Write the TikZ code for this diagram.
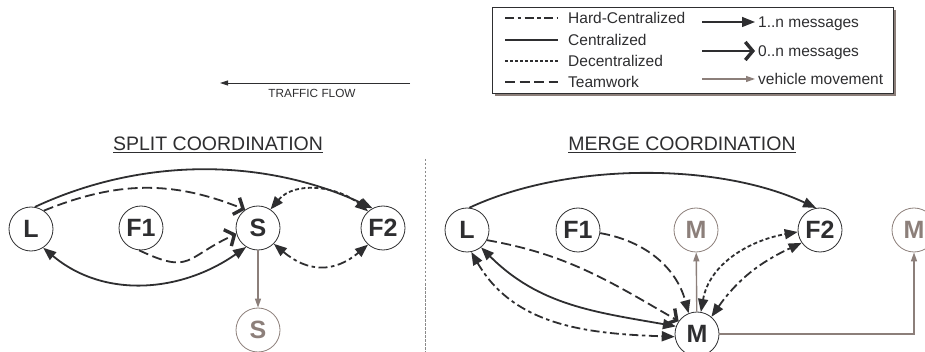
\documentclass[tikz,border=0pt]{standalone}
\usepackage{fontspec}
\setmainfont{Liberation Sans}
\usetikzlibrary{arrows.meta}
\definecolor{dk}{HTML}{2E2E30}
\definecolor{veh}{HTML}{8C7F7A}
\definecolor{sep}{HTML}{8A8A8A}
\tikzset{
  fulltip/.tip={Triangle[length=13pt,width=10pt]},
  opentip/.tip={Straight Barb[length=7.5pt,width=18pt,line width=3.4pt]},
  vehtip/.tip={Triangle[length=9pt,width=6pt]},
}
\begin{document}
\begin{tikzpicture}[x=1pt,y=1pt,
  every node/.style={inner sep=0pt, text=dk},
  nd/.style={circle, draw=dk, line width=0.8pt, minimum size=44pt,
    font=\fontsize{25}{25}\selectfont\bfseries},
  ndg/.style={nd, draw=veh, text=veh},
  conn/.style={line width=1.8pt, draw=dk},
  hardc/.style={dash pattern=on 9pt off 3.5pt on 3.5pt off 3.5pt},
  dec/.style={dash pattern=on 4pt off 2.5pt},
  team/.style={dash pattern=on 10pt off 4.5pt},
  vehline/.style={line width=1.4pt, draw=veh},
  legtext/.style={anchor=base west, font=\fontsize{15.5}{16}\selectfont},
  legline/.style={line width=1.4pt, draw=dk},
  head/.style={font=\fontsize{19.5}{20}\selectfont},
]
\useasboundingbox (0,0) rectangle (925,-352);

% ---------- legend ----------
\fill[veh] (495,-10) rectangle (896,-96);
\draw[fill=white, draw=dk, line width=0.7pt] (492,-7) rectangle (893,-93);

\node[legtext] (lg1) at (568,-23.5) {Hard-Centralized};
\node[legtext] (lg2) at (568,-45.5) {Centralized};
\node[legtext] (lg3) at (568,-66.5) {Decentralized};
\node[legtext] (lg4) at (568,-87.5) {Teamwork};
\draw[legline, hardc] (505,-18) -- (558,-18);
\draw[legline] (505,-40) -- (558,-40);
\draw[legline, dash pattern=on 3pt off 2pt] (505,-61) -- (558,-61);
\draw[legline, team] (505,-82) -- (558,-82);

\node[legtext] (lr1) at (758,-27.5) {1..n messages};
\node[legtext] (lr2) at (758,-56.5) {0..n messages};
\node[legtext] (lr3) at (758,-84.5) {vehicle movement};
\draw[legline, -fulltip] (702,-22) -- (755,-22);
\draw[legline, -opentip] (702,-51) -- (755,-51);
\draw[vehline, line width=1.2pt, -vehtip] (702,-79) -- (755,-79);

% ---------- traffic flow ----------
\coordinate (tfA) at (410,-83);
\coordinate (tfB) at (220,-83);
\draw[line width=0.9pt, draw=dk, -{Triangle[length=8pt,width=5pt]}] (tfA) -- (tfB);
\node[font=\fontsize{11.8}{12}\selectfont] (tf) at (312,-93) {TRAFFIC FLOW};

% ---------- headings ----------
\node[head] (hs) at (218,-145) {\underline{SPLIT COORDINATION}};
\node[head] (hm) at (682,-145) {\underline{MERGE COORDINATION}};

% separator
\coordinate (sepA) at (425,-159);
\coordinate (sepB) at (425,-352);
\draw[sep, line width=0.9pt, dash pattern=on 2.5pt off 1.5pt] (sepA) -- (sepB);

% ---------- split coordination ----------
\node[nd] (L) at (31,-229) {L};
\node[nd] (F1) at (141,-228) {F1};
\node[nd] (S) at (258,-228) {S};
\node[nd] (F2) at (383,-228) {F2};
\node[ndg] (Sg) at (258,-330) {S};

\draw[conn, -fulltip] (L.80) to[out=25,in=155,looseness=0.9] (F2.118);
\draw[conn, team, -opentip] (L.55) to[out=22,in=158] (S.125);
\draw[conn, team, -opentip] (F1.-95) to[out=-25,in=205,looseness=1.5] (S.195);
\draw[conn, fulltip-fulltip] (L.-57) to[out=-40,in=215] (S.-122);
\draw[conn, dec, fulltip-fulltip] (S.56) to[out=50,in=140] (F2.132);
\draw[conn, hardc, fulltip-fulltip] (S.-45) to[out=-40,in=220,looseness=1.2] (F2.-132);
\draw[vehline, -vehtip] (S) -- (Sg);

% ---------- merge coordination ----------
\node[nd] (L2) at (467,-230) {L};
\node[nd] (F1b) at (578,-230) {F1};
\node[ndg] (Mg1) at (696,-230) {M};
\node[nd] (F2b) at (820,-230) {F2};
\node[ndg] (Mg2) at (914,-230) {M};
\node[nd, fill=white] (M) at (697,-334) {M};

\draw[conn, -fulltip] (L2.84) to[out=25,in=155,looseness=0.8] (F2b.100);
\draw[conn, team, -opentip] (L2.-27) to[out=-10,in=150] (M.145);
\draw[conn, fulltip-fulltip] (L2.-51) to[out=-45,in=170] (M.160);
\draw[conn, hardc, fulltip-fulltip] (L2.-79) to[out=-60,in=178] (M.187);
\draw[conn, team, -fulltip] (F1b.-8) to[out=-10,in=105] (M.112);
\draw[vehline, -vehtip] (M) -- (Mg1);
\draw[conn, dec, fulltip-fulltip] (M.80) to[out=80,in=190] (F2b.185);
\draw[conn, hardc, fulltip-fulltip] (M.50) to[out=55,in=205] (F2b.215);
\draw[vehline, -vehtip] (M.east) -| (Mg2.south);
\end{tikzpicture}
\end{document}
